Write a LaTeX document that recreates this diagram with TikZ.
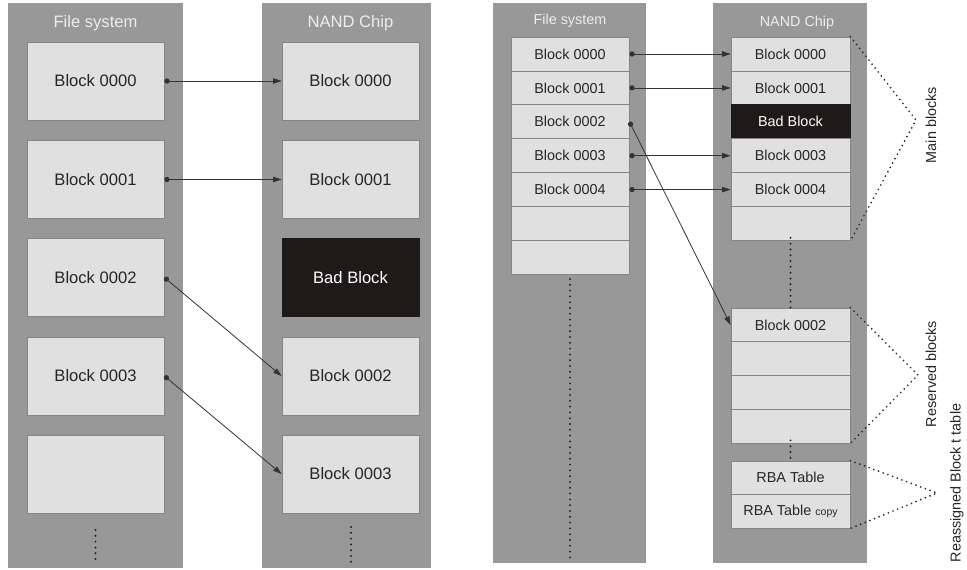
\documentclass[tikz,border=0pt]{standalone}
\usepackage{fontspec}
\setmainfont{Liberation Sans}
\usetikzlibrary{arrows.meta}
\definecolor{colgray}{HTML}{989898}
\definecolor{blkfill}{HTML}{E0E0E0}
\definecolor{blkedge}{HTML}{858585}
\definecolor{txtdark}{HTML}{262626}
\definecolor{badfill}{HTML}{1E1A19}
\definecolor{hdrtxt}{HTML}{EDEDED}
\definecolor{linkcol}{HTML}{333333}
\newcommand{\bigfont}{\fontsize{16.6}{19}\selectfont}
\newcommand{\smallfont}{\fontsize{14.4}{17}\selectfont}
\tikzset{
  column/.style={fill=colgray, draw=none},
  bigblk/.style={draw=blkedge, line width=0.8pt, fill=blkfill, text=txtdark,
    minimum width=137pt, minimum height=78pt, inner sep=0pt, font=\bigfont},
  rowblk/.style={draw=blkedge, line width=0.8pt, fill=blkfill, text=txtdark,
    minimum height=33.9pt, inner sep=0pt, font=\smallfont},
  fsrow/.style={rowblk, minimum width=118pt},
  nandrow/.style={rowblk, minimum width=119pt},
  badblk/.style={fill=badfill, draw=badfill, text=white},
  hdr/.style={text=hdrtxt, inner sep=0pt},
  link/.style={draw=linkcol, line width=0.8pt,
    {Circle[length=5.2pt]}-{Triangle[length=8.5pt,width=5.5pt]}},
  dotline/.style={draw=txtdark, line width=2.2pt, line cap=round,
    dash pattern=on 0pt off 5.8pt},
  bracket/.style={draw=txtdark, line width=1.9pt, line cap=round,
    dash pattern=on 0pt off 5pt},
  sidelabel/.style={rotate=90, text=txtdark, font=\smallfont, inner sep=0pt}
}
\begin{document}
\begin{tikzpicture}[x=1pt, y=-1pt]
\useasboundingbox (0,0) rectangle (967,570);
\fill[white] (0,0) rectangle (967,570);

% ---------- left pair: one block per slot ----------
\fill[column] (8,3) rectangle (183,568);
\fill[column] (262,3) rectangle (431,568);
\node[hdr, font=\bigfont] (fsA) at (95.5,23) {File system};
\node[hdr, font=\bigfont] (ncA) at (350.5,23) {NAND Chip};

\node[bigblk] (fa0) at (95.5,81)    {Block 0000};
\node[bigblk] (fa1) at (95.5,179.5) {Block 0001};
\node[bigblk] (fa2) at (95.5,277.5) {Block 0002};
\node[bigblk] (fa3) at (95.5,376)   {Block 0003};
\node[bigblk] (fa4) at (95.5,474)   {};

\node[bigblk] (na0) at (350.5,81)    {Block 0000};
\node[bigblk] (na1) at (350.5,179.5) {Block 0001};
\node[bigblk, badblk] (nab) at (350.5,277.5) {Bad Block};
\node[bigblk] (na2) at (350.5,376)   {Block 0002};
\node[bigblk] (na3) at (350.5,474)   {Block 0003};

\coordinate (fadA) at (95.5,530);  \coordinate (fadB) at (95.5,562);
\coordinate (nadA) at (351,527);   \coordinate (nadB) at (351,562);
\draw[dotline] (fadA) -- (fadB);
\draw[dotline] (nadA) -- (nadB);

\draw[link] (fa0.east) -- (na0.west);
\draw[link] (fa1.east) -- (na1.west);
\draw[link] (fa2.east) -- (na2.west);
\draw[link] (fa3.east) -- (na3.west);

% ---------- right pair: stacked rows with reserved area ----------
\fill[column] (493,3) rectangle (646,563);
\fill[column] (713,3) rectangle (867,563);
\node[hdr, font=\smallfont] (fsB) at (570,21) {File system};
\node[hdr, font=\smallfont] (ncB) at (797,23) {NAND Chip};

\node[fsrow] (fb0) at (570,54)    {Block 0000};
\node[fsrow] (fb1) at (570,87.9)  {Block 0001};
\node[fsrow] (fb2) at (570,121.8) {Block 0002};
\node[fsrow] (fb3) at (570,155.7) {Block 0003};
\node[fsrow] (fb4) at (570,189.6) {Block 0004};
\node[fsrow] (fb5) at (570,223.5) {};
\node[fsrow] (fb6) at (570,257.4) {};

\node[nandrow] (nb0) at (790.5,54)    {Block 0000};
\node[nandrow] (nb1) at (790.5,87.9)  {Block 0001};
\node[nandrow, badblk] (nbb) at (790.5,121.8) {Bad Block};
\node[nandrow] (nb3) at (790.5,155.7) {Block 0003};
\node[nandrow] (nb4) at (790.5,189.6) {Block 0004};
\node[nandrow] (nb5) at (790.5,223.5) {};

\node[nandrow, minimum height=33.75pt] (rb0) at (790.5,324.9) {Block 0002};
\node[nandrow, minimum height=33.75pt] (rb1) at (790.5,358.6) {};
\node[nandrow, minimum height=33.75pt] (rb2) at (790.5,392.4) {};
\node[nandrow, minimum height=33.75pt] (rb3) at (790.5,426.1) {};

\node[nandrow, minimum height=33.5pt] (rt0) at (790.5,477.8) {RBA Table};
\node[nandrow, minimum height=33.5pt] (rt1) at (790.5,511.3)
  {RBA Table {\fontsize{10.5}{12}\selectfont copy}};

\coordinate (fbdA) at (570,279); \coordinate (fbdB) at (570,561);
\draw[dotline] (fbdA) -- (fbdB);
\draw[dotline] ([yshift=3pt]nb5.south) -- (rb0.north);
\draw[dotline] ([yshift=3pt]rb3.south) -- (rt0.north);

\draw[link] (fb0.east) -- (nb0.west);
\draw[link] (fb1.east) -- (nb1.west);
\draw[link] (fb3.east) -- (nb3.west);
\draw[link] (fb4.east) -- (nb4.west);
\draw[link] (fb2.east) -- (rb0.west);

% dotted brackets and their labels
\coordinate (apMain) at (916,120);
\coordinate (apRes)  at (918,375);
\coordinate (apRBA)  at (937,493);
\draw[bracket] (nb0.north east) -- (apMain) -- (nb5.south east);
\draw[bracket] (rb0.north east) -- (apRes) -- (rb3.south east);
\draw[bracket] (rt0.north east) -- (apRBA) -- (rt1.south east);

\node[sidelabel] (lblMain) at (931,125) {Main blocks};
\node[sidelabel] (lblRes)  at (931,374) {Reserved blocks};
\node[sidelabel] (lblRBA)  at (957,483) {Reassigned Block t table};
\end{tikzpicture}
\end{document}
